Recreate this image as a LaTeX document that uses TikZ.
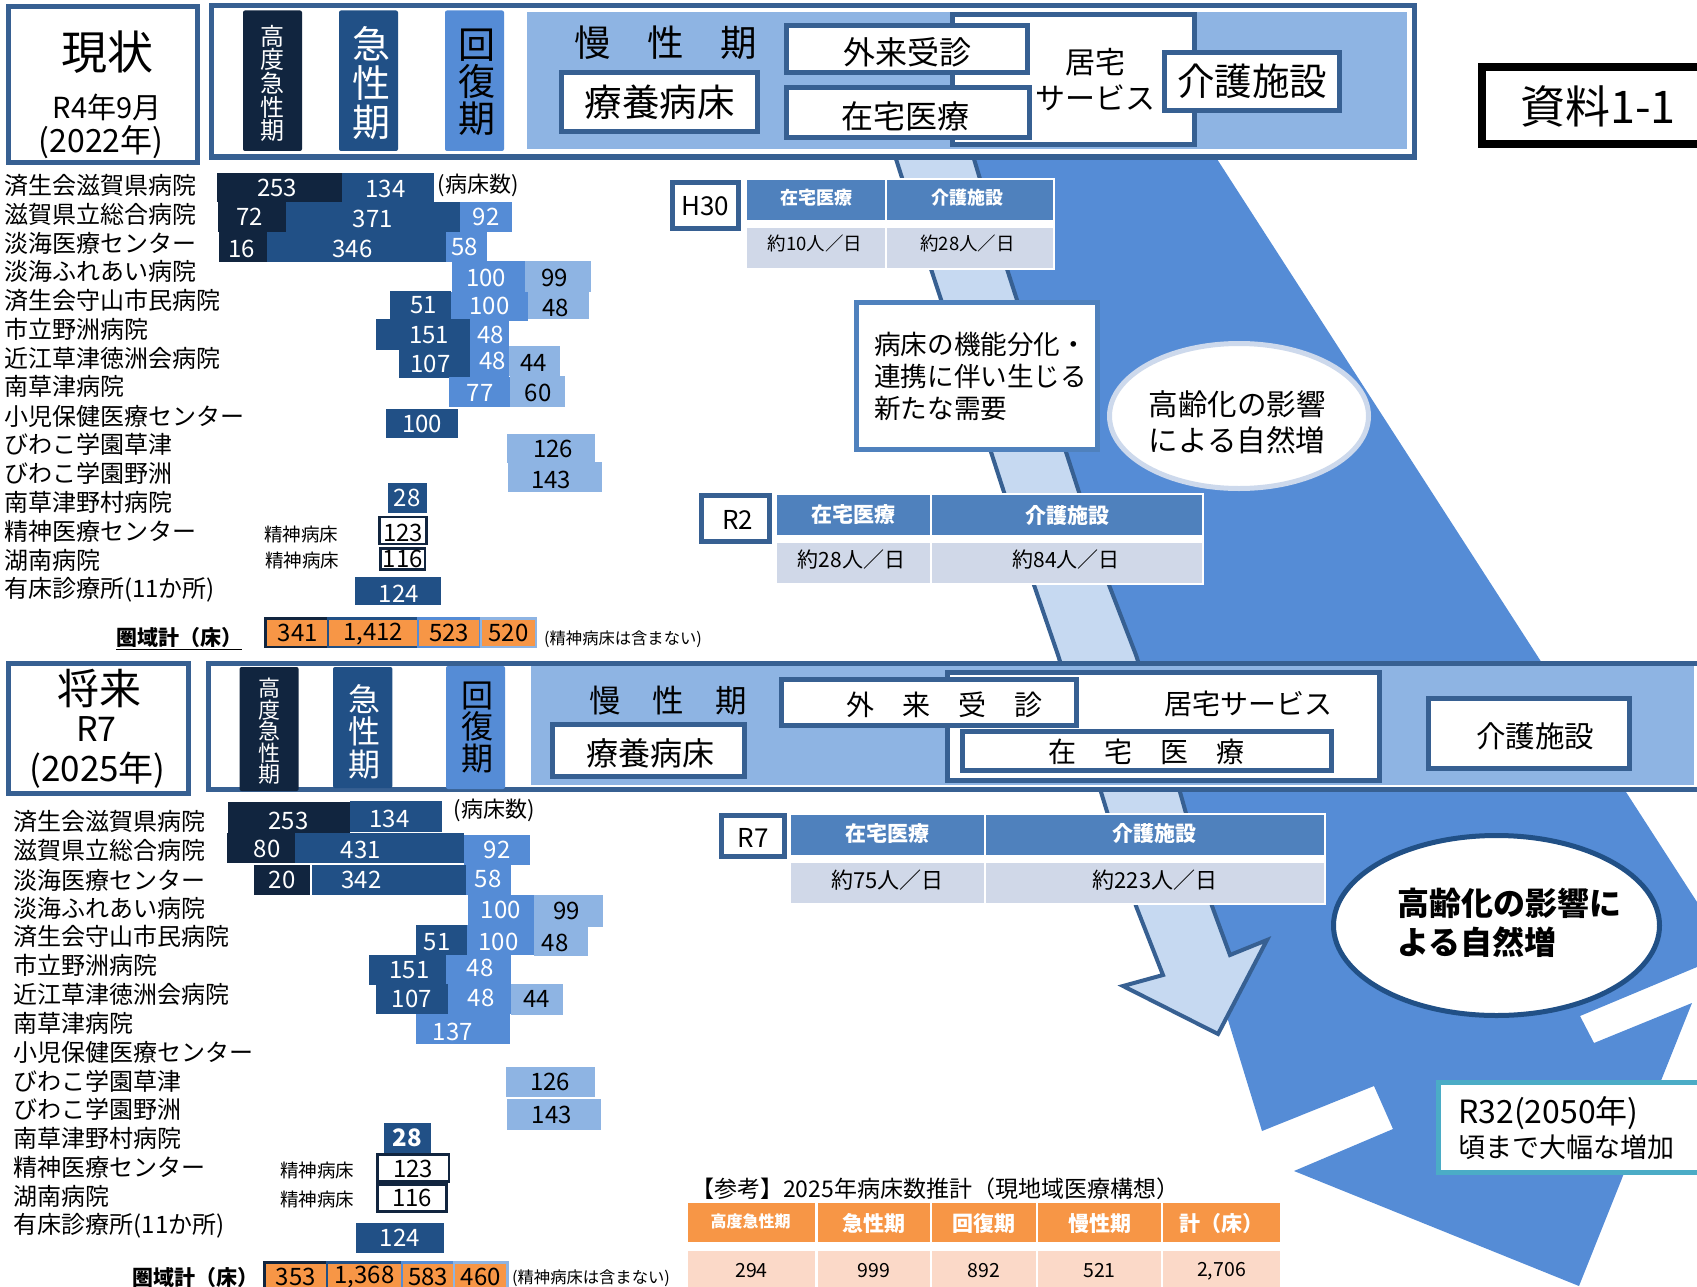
\documentclass[tikz,border=0pt]{standalone}
\usepackage{fontspec}
\setmainfont{Noto Sans CJK JP}
\usetikzlibrary{shapes.geometric}
\definecolor{bandblue}{HTML}{376092}
\definecolor{darkbed}{HTML}{11253F}
\definecolor{midbed}{HTML}{215086}
\definecolor{lightbed}{HTML}{558CD6}
\definecolor{palebed}{HTML}{8EB4E3}
\definecolor{skyarrow}{HTML}{C6D9F1}
\definecolor{headblue}{HTML}{4F81BD}
\definecolor{rowblue}{HTML}{D0D8E8}
\definecolor{orangebed}{HTML}{F79646}
\definecolor{roworange}{HTML}{FBD9C8}
\definecolor{tealbox}{HTML}{4BACC6}
\definecolor{rimblue}{HTML}{CDD9EC}
\newcommand{\fs}[2]{\fontsize{#1}{#2}\selectfont}
\newcommand{\bedbar}[7]{\node[#2,minimum width={(#5-#3)*1pt},minimum height={(#6-#4)*1pt}] (#1) at ({(#3+#5)/2},{(#4+#6)/2}) {#7};}
\newcommand{\tx}[3]{\makebox[0pt]{\hspace*{#1pt}\hspace*{#1pt}\raisebox{-#2pt}[\height][\depth]{#3}}}
\tikzset{
  hosp/.style={anchor=west,inner sep=0pt,font=\fs{24}{24}},
  cell/.style={inner sep=0pt,font=\fs{24}{24}},
  highbar/.style={cell,fill=darkbed,text=white},
  acutebar/.style={cell,fill=midbed,text=white},
  recovbar/.style={cell,fill=lightbed,text=white},
  chronbar/.style={cell,fill=palebed},
  psybar/.style={cell,fill=white,draw=darkbed,line width=2.5pt},
  sumbar/.style={cell,fill=orangebed,line width=2.5pt},
  panelbox/.style={inner sep=0pt,fill=white,draw=bandblue,line width=5pt},
  headcell/.style={inner sep=0pt,fill=headblue,text=white},
  datacell/.style={inner sep=0pt,fill=rowblue},
  plain/.style={inner sep=0pt},
  stagebar/.style={inner sep=0pt,rounded corners=2pt,align=center},
}

\begin{document}
\begin{tikzpicture}[x=1pt,y=-1pt]
      \useasboundingbox (0,0) rectangle (1697,1287);
      \clip (0,0) rectangle (1697,1287);
      %arrows
      \path [fill=lightbed] (930,100) -- (1179,100) -- (1217,159) -- (1540,660) -- (1626,792) -- (1697,902) -- (1740,950) -- (1697,967) -- (1580,1016) -- (1594,1043) -- (1692,1003) -- (1579,1286) -- (1294,1171) -- (1393,1129) -- (1374,1086) -- (1262,1131) -- (1228,1020) -- (1215,950) -- (1190,900) -- (1150,792) -- (1100,650) -- (1040,452) -- (980,269) -- (950,159) -- cycle;
      \path [fill=skyarrow,draw=bandblue,line width=4pt,line join=miter] (880,100) -- (896,159) -- (931,269) -- (991,452) -- (1034,585) -- (1058,655) -- (1101,792) -- (1136,906) -- (1163,975) -- (1123,986) -- (1218,1034) -- (1267,940) -- (1230,955) -- (1212,906) -- (1180,792) -- (1136,655) -- (1109,585) -- (1066,452) -- (1007,269) -- (974,159) -- (958,100) -- cycle;
      %upper band
      \bedbar{nowbox}{panelbox}{8.5}{6.5}{197.5}{162}{}
      \node[plain,font=\fs{46}{46}] (nowa) at (107,52) {現状};
      \node[plain,font=\fs{29}{29}] (nowb) at (107,107) {R4年9月};
      \node[plain,font=\fs{32}{32}] (nowc) at (101,142) {(2022年)};
      \bedbar{nowband}{panelbox}{211.5}{5.5}{1414.5}{157}{}
      \bedbar{nowhigh}{stagebar,fill=darkbed,text=white,font=\fs{24}{23.6}}{243}{10.5}{302}{151}{\\[2pt]高\\度\\急\\性\\期}
      \bedbar{nowacute}{stagebar,fill=midbed,text=white,font=\fs{38}{39}}{339}{10.5}{398}{151}{\tx{3}{2}{\parbox{40pt}{\centering 急\\性\\期}}}
      \bedbar{nowrecov}{stagebar,fill=lightbed,font=\fs{37}{37}}{445}{10.5}{504}{151}{\tx{2}{2}{\parbox{40pt}{\centering 回\\復\\期}}}
      \bedbar{nowchron}{plain,fill=palebed}{527}{12}{1407}{149.5}{}
      \node[plain,font=\fs{36.5}{36}] (nowchront) at (666,43) {慢　性　期};
      \bedbar{nowlong}{panelbox,font=\fs{37.5}{37}}{561.5}{73}{757.5}{131.5}{療養病床}
      \bedbar{nowhome}{panelbox}{952.5}{15}{1194.5}{144.5}{}
      \node[plain,font=\fs{30}{36},align=center] (nowhomet) at (1095,80) {居宅\\サービス};
      \bedbar{nowout}{panelbox,font=\fs{32}{32}}{786.5}{25.5}{1027.5}{72.5}{}
      \node[plain,font=\fs{32}{32}] (nowoutt) at (907,52.5) {外来受診};
      \bedbar{nowvisit}{panelbox,font=\fs{32}{32}}{786.5}{88}{1029}{137.5}{}
      \node[plain,font=\fs{32}{32}] (nowvisitt) at (905,116) {在宅医療};
      \bedbar{nowcare}{panelbox,font=\fs{37.5}{37}}{1164.5}{53}{1339.5}{110.5}{介護施設}
      %document tag
      \bedbar{tagbox}{panelbox,draw=black,line width=8.5pt}{1482}{67}{1720}{144}{}
      \node[plain,font=\fs{45}{45}] (tag) at (1598,106) {資料1-1};
      %upper hospitals
      \node[hosp] (ha1) at (4,185) {済生会滋賀県病院};
      \node[hosp] (ha2) at (4,214) {滋賀県立総合病院};
      \node[hosp] (ha3) at (4,243) {淡海医療センター};
      \node[hosp] (ha4) at (4,271.5) {淡海ふれあい病院};
      \node[hosp] (ha5) at (4,300) {済生会守山市民病院};
      \node[hosp] (ha6) at (4,329) {市立野洲病院};
      \node[hosp] (ha7) at (4,358) {近江草津徳洲会病院};
      \node[hosp] (ha8) at (4,386) {南草津病院};
      \node[hosp] (ha9) at (4,416) {小児保健医療センター};
      \node[hosp] (ha10) at (4,444) {びわこ学園草津};
      \node[hosp] (ha11) at (4,473) {びわこ学園野洲};
      \node[hosp] (ha12) at (4,502) {南草津野村病院};
      \node[hosp] (ha13) at (4,531) {精神医療センター};
      \node[hosp] (ha14) at (4,560) {湖南病院};
      \node[hosp] (ha15) at (4,590) {有床診療所(11か所)};
      %upper beds
      \bedbar{a1h}{highbar}{217}{173}{341.5}{202}{\tx{-2}{0}{253}}
      \bedbar{a1a}{acutebar}{341.5}{173}{433.6}{202}{\tx{-2}{1}{134}}
      \node[plain,font=\fs{22}{22}] (aunit) at (478,185) {(病床数)};
      \bedbar{a2h}{highbar}{218}{202}{285.6}{232}{\tx{-2}{0}{72}}
      \bedbar{a2a}{acutebar}{285.6}{202}{460}{232}{\tx{0}{2}{371}}
      \bedbar{a2r}{recovbar}{460}{202}{512}{232}{92}
      \bedbar{a3h}{highbar}{219}{232}{266.7}{262}{\tx{-1}{2}{16}}
      \bedbar{a3a}{acutebar}{266.7}{232}{446}{262}{\tx{-4}{2}{346}}
      \bedbar{a3r}{recovbar}{446}{232}{487}{262}{\tx{-2}{0}{58}}
      \bedbar{a4r}{recovbar}{451.5}{261}{524.7}{291.7}{\tx{-2}{2}{100}}
      \bedbar{a4c}{chronbar}{524.7}{261}{591}{291.7}{\tx{-3}{2}{99}}
      \bedbar{a5a}{acutebar}{389.7}{291}{451}{320}{\tx{3}{0}{51}}
      \bedbar{a5r}{recovbar}{451}{291.7}{528}{320.7}{100}
      \bedbar{a5c}{chronbar}{528}{291.7}{589}{318.6}{\tx{-3}{3}{48}}
      \bedbar{a6a}{acutebar}{376}{319}{470}{350}{\tx{6}{1}{151}}
      \bedbar{a6r}{recovbar}{470}{320}{509}{349}{\tx{1}{0}{48}}
      \bedbar{a7a}{acutebar}{399}{349}{470}{377.5}{\tx{-4}{1}{107}}
      \bedbar{a7r}{recovbar}{470}{349}{509}{376.7}{\tx{3}{-2}{48}}
      \bedbar{a7c}{chronbar}{509}{346}{560.4}{376}{\tx{-1}{2}{44}}
      \bedbar{a8r}{recovbar}{449}{376.7}{509.5}{407}{\tx{1}{1}{77}}
      \bedbar{a8c}{chronbar}{509.5}{376}{565}{407}{\tx{1}{1}{60}}
      \bedbar{a9a}{acutebar}{386}{409}{458}{438}{100}
      \bedbar{a10c}{chronbar}{507}{433.5}{595}{463}{\tx{2}{1}{126}}
      \bedbar{a11c}{chronbar}{508.4}{462}{602}{492}{\tx{-4}{3}{143}}
      \bedbar{a12a}{acutebar}{387.5}{483}{427}{512.6}{28}
      \node[plain,font=\fs{18.5}{18.5}] (apsya) at (301,534) {精神病床};
      \bedbar{a13p}{psybar}{379.5}{517}{426.5}{544}{\tx{0}{2}{123}}
      \node[plain,font=\fs{18.5}{18.5}] (apsyb) at (302,560) {精神病床};
      \bedbar{a14p}{psybar}{380.5}{548.5}{425}{569.5}{116}
      \bedbar{a15a}{acutebar}{354.5}{576.6}{441}{605}{\tx{1}{3}{124}}
      \node[plain,font=\fs{21}{21}\bfseries] (asum) at (179,639) {\underline{圏域計（床）}};
      \bedbar{s1}{sumbar,draw=darkbed}{265.5}{618.5}{328}{647}{\tx{1}{0}{341}}
      \bedbar{s2}{sumbar,draw=midbed}{328}{618.5}{418}{647}{\tx{0}{1}{1,412}}
      \bedbar{s3}{sumbar,draw=lightbed}{418}{618.5}{480}{647}{523}
      \bedbar{s4}{sumbar,draw=palebed}{481}{618.5}{536}{647}{520}
      \node[plain,font=\fs{16.3}{16.3}] (anote) at (623,639) {(精神病床は含まない)};
      %H30 table
      \bedbar{hbox}{panelbox,font=\fs{26}{26}}{672.5}{182.5}{738.5}{228.5}{\tx{0}{1}{H30}}
      \bedbar{hback}{plain,fill=white}{745}{177.5}{1054.5}{270}{}
      \bedbar{hh1}{headcell,font=\fs{18}{18}\bfseries}{747}{180}{885}{220}{\tx{0}{-2}{在宅医療}}
      \bedbar{hh2}{headcell,font=\fs{18}{18}\bfseries}{886.5}{180}{1052.5}{220}{\tx{-2}{-2}{介護施設}}
      \bedbar{hd1}{datacell,font=\fs{18.5}{18.5}}{747}{228}{885}{268}{\tx{-1}{-5}{約10人／日}}
      \bedbar{hd2}{datacell,font=\fs{18.5}{18.5}}{886.5}{228}{1052.5}{268}{\tx{-2}{-5}{約28人／日}}
      %function box and ellipse
      \bedbar{funcbox}{panelbox,draw=headblue}{856.5}{302.5}{1097.5}{449.5}{}
      \node[plain,anchor=west,align=left,font=\fs{26.6}{32}] (functext) at (874,376) {病床の機能分化・\\連携に伴い生じる\\新たな需要};
      \node[ellipse,inner sep=0pt,fill=white,draw=rimblue,line width=5pt,minimum width=259pt,minimum height=145pt] (ageup) at (1239,416) {};
      \node[plain,align=center,font=\fs{29.5}{36}] (ageuptext) at (1237,422) {高齢化の影響\\による自然増};
      %R2 table
      \bedbar{rbox}{panelbox,font=\fs{26}{26}}{701.5}{495.5}{769.5}{541.5}{\tx{2}{1}{R2}}
      \bedbar{rback}{plain,fill=white}{775}{492.5}{1204}{585}{}
      \bedbar{rh1}{headcell,font=\fs{21}{21}\bfseries}{777}{495}{930}{535}{在宅医療}
      \bedbar{rh2}{headcell,font=\fs{21}{21}\bfseries}{932}{495}{1202}{535}{介護施設}
      \bedbar{rd1}{datacell,font=\fs{21}{21}}{777}{543}{930}{583}{\tx{-2}{-3}{約28人／日}}
      \bedbar{rd2}{datacell,font=\fs{21}{21}}{932}{543}{1202}{583}{\tx{-1}{-3}{約84人／日}}
      %lower band
      \bedbar{futbox}{panelbox}{8.5}{663.5}{188.5}{793.5}{}
      \node[plain,font=\fs{42}{42}] (futa) at (99,688) {将来};
      \node[plain,font=\fs{34}{34}] (futb) at (96.5,729) {R7};
      \node[plain,font=\fs{35}{35}] (futc) at (97.5,770) {(2025年)};
      \bedbar{futband}{panelbox}{208.5}{663.5}{1720}{789.5}{}
      \bedbar{futchron}{plain,fill=palebed}{531}{665.5}{1694}{785}{}
      \bedbar{futhigh}{stagebar,fill=darkbed,text=white,font=\fs{22}{21.4}}{239.6}{667}{298.6}{791}{\\[2pt]高\\度\\急\\性\\期}
      \bedbar{futacute}{stagebar,fill=midbed,text=white,font=\fs{32}{32.5}}{333}{667}{392.4}{788}{\tx{2}{4}{\parbox{40pt}{\centering 急\\性\\期}}}
      \bedbar{futrecov}{stagebar,fill=lightbed,font=\fs{32}{31.5}}{446}{666}{505}{789}{\tx{2}{0}{\parbox{40pt}{\centering 回\\復\\期}}}
      \node[plain,font=\fs{31.5}{31}] (futchront) at (668,701) {慢　性　期};
      \bedbar{futlong}{panelbox,font=\fs{32}{32}}{552.5}{724.5}{744.5}{776.5}{\tx{2}{3}{療養病床}}
      \bedbar{futhome}{panelbox}{947}{672.5}{1379.5}{780.5}{}
      \node[plain,font=\fs{28}{28}] (futhomet) at (1248,703.5) {居宅サービス};
      \bedbar{futout}{panelbox,font=\fs{28}{28}}{781.5}{679.5}{1076.5}{725.5}{\tx{15}{2}{外　来　受　診}}
      \bedbar{futvisit}{panelbox,font=\fs{28}{28}}{962.5}{731.5}{1331}{770.5}{\tx{0}{1}{在　宅　医　療}}
      \bedbar{futcare}{panelbox,font=\fs{29.5}{29.5}}{1428.5}{698.5}{1629.5}{768.5}{\tx{6}{3}{介護施設}}
      %lower hospitals
      \node[hosp] (hb1) at (13.5,821) {済生会滋賀県病院};
      \node[hosp] (hb2) at (13.5,850) {滋賀県立総合病院};
      \node[hosp] (hb3) at (13.5,880) {淡海医療センター};
      \node[hosp] (hb4) at (13.5,908) {淡海ふれあい病院};
      \node[hosp] (hb5) at (13.5,936.5) {済生会守山市民病院};
      \node[hosp] (hb6) at (13.5,965) {市立野洲病院};
      \node[hosp] (hb7) at (13.5,994) {近江草津徳洲会病院};
      \node[hosp] (hb8) at (13.5,1023) {南草津病院};
      \node[hosp] (hb9) at (13.5,1052) {小児保健医療センター};
      \node[hosp] (hb10) at (13.5,1081) {びわこ学園草津};
      \node[hosp] (hb11) at (13.5,1109) {びわこ学園野洲};
      \node[hosp] (hb12) at (13.5,1138.5) {南草津野村病院};
      \node[hosp] (hb13) at (13.5,1167) {精神医療センター};
      \node[hosp] (hb14) at (13.5,1196) {湖南病院};
      \node[hosp] (hb15) at (13.5,1226) {有床診療所(11か所)};
      %lower beds
      \bedbar{b1h}{highbar}{227.6}{802}{349.6}{833}{\tx{0}{3}{253}}
      \bedbar{b1a}{acutebar}{349.6}{801}{441.7}{832}{\tx{-6}{2}{134}}
      \node[plain,font=\fs{22}{22}] (bunit) at (494,810) {(病床数)};
      \bedbar{b2h}{highbar}{226.6}{833}{295.4}{863.4}{\tx{6}{1}{80}}
      \bedbar{b2a}{acutebar}{295.4}{833}{464}{863.4}{\tx{-19}{2}{431}}
      \bedbar{b2r}{recovbar}{464}{834.5}{530}{864.6}{92}
      \bedbar{b3h}{highbar}{254}{865.4}{310}{894.7}{20}
      \bedbar{b3a}{acutebar}{311.6}{865.4}{465.6}{894.7}{\tx{-27}{0}{342}}
      \bedbar{b3r}{recovbar}{465.6}{864.6}{511}{894.7}{\tx{0}{-1}{58}}
      \bedbar{b4r}{recovbar}{467.8}{894.7}{534}{925}{100}
      \bedbar{b4c}{chronbar}{534}{894.7}{602.7}{927}{\tx{-2}{0}{99}}
      \bedbar{b5a}{acutebar}{415.7}{925}{466.7}{955}{\tx{-4}{2}{51}}
      \bedbar{b5r}{recovbar}{466.7}{925}{534}{955}{\tx{-2}{2}{100}}
      \bedbar{b5c}{chronbar}{534}{927}{588}{955.7}{\tx{-6}{2}{48}}
      \bedbar{b6a}{acutebar}{369}{955}{446}{985}{\tx{2}{0}{151}}
      \bedbar{b6r}{recovbar}{446}{955}{510.6}{984}{\tx{2}{-2}{48}}
      \bedbar{b7a}{acutebar}{376}{984}{447.7}{1013.8}{107}
      \bedbar{b7r}{recovbar}{447.7}{984}{510.6}{1013.8}{\tx{2}{-1}{48}}
      \bedbar{b7c}{chronbar}{510.6}{984}{563}{1014.6}{44}
      \bedbar{b8r}{recovbar}{415.7}{1013.8}{510}{1043.5}{\tx{-10}{3}{137}}
      \bedbar{b10c}{chronbar}{506}{1066.7}{594.6}{1097}{126}
      \bedbar{b11c}{chronbar}{506.8}{1099}{601}{1129.7}{\tx{-2}{1}{143}}
      \bedbar{b12a}{acutebar,font=\fs{24}{24}\bfseries}{383.7}{1122.8}{431}{1153}{28}
      \node[plain,font=\fs{18.5}{18.5}] (bpsya) at (317,1170) {精神病床};
      \bedbar{b13p}{psybar}{377.5}{1154.5}{449}{1181.5}{\tx{0}{1}{123}}
      \node[plain,font=\fs{18.5}{18.5}] (bpsyb) at (317,1199.5) {精神病床};
      \bedbar{b14p}{psybar}{377.5}{1184.5}{446.5}{1211.5}{116}
      \bedbar{b15a}{acutebar}{355.6}{1223}{444}{1253}{124}
      \node[plain,font=\fs{21}{21}\bfseries] (bsum) at (195,1279) {\underline{圏域計（床）}};
      \bedbar{t1}{sumbar,draw=darkbed}{264.5}{1262.5}{327}{1291}{353}
      \bedbar{t2}{sumbar,draw=midbed}{327}{1262.5}{402}{1291}{1,368}
      \bedbar{t3}{sumbar,draw=lightbed}{402}{1262.5}{454}{1291}{583}
      \bedbar{t4}{sumbar,draw=palebed}{454}{1262.5}{507.5}{1291}{460}
      \node[plain,font=\fs{16.3}{16.3}] (bnote) at (591,1278) {(精神病床は含まない)};
      %R7 table
      \bedbar{sbox}{panelbox,font=\fs{26}{26}}{721.5}{815}{784.5}{856}{\tx{0}{2}{R7}}
      \bedbar{sback}{plain,fill=white}{789}{812.5}{1326}{905}{}
      \bedbar{sh1}{headcell,font=\fs{21}{21}\bfseries}{791}{814.5}{984}{855}{\tx{0}{-1}{在宅医療}}
      \bedbar{sh2}{headcell,font=\fs{21}{21}\bfseries}{986}{814.5}{1324}{855}{\tx{-1}{-1}{介護施設}}
      \bedbar{sd1}{datacell,font=\fs{22}{22}}{791}{862.5}{984}{903}{\tx{0}{-3}{約75人／日}}
      \bedbar{sd2}{datacell,font=\fs{22}{22}}{986}{862.5}{1324}{903}{\tx{0}{-3}{約223人／日}}
      %lower ellipse and R32 note
      \node[ellipse,inner sep=0pt,fill=white,draw=midbed,line width=5pt,minimum width=326pt,minimum height=180pt] (agefut) at (1496.5,925.5) {};
      \node[plain,anchor=west,align=left,font=\fs{32}{38.5}\bfseries] (agefuttext) at (1397,923) {高齢化の影響に\\よる自然増};
      \bedbar{latebox}{panelbox,draw=tealbox}{1438.5}{1082.5}{1720}{1172}{}
      \node[plain,anchor=west,align=left,font=\fs{27}{34}] (latetext) at (1458,1128) {{\fs{32}{34}R32(2050年)}\\頃まで大幅な増加};
      %reference table
      \node[plain,anchor=west,font=\fs{23}{23}] (reftitle) at (691,1189) {【参考】2025年病床数推計（現地域医療構想）};
      \bedbar{rfh1}{plain,fill=orangebed,text=white,font=\fs{16}{16}\bfseries}{688}{1203}{815}{1242}{\tx{-1}{-1}{高度急性期}}
      \bedbar{rfh2}{plain,fill=orangebed,text=white,font=\fs{21}{21}\bfseries}{818}{1203}{930}{1242}{\tx{0}{1}{急性期}}
      \bedbar{rfh3}{plain,fill=orangebed,text=white,font=\fs{21}{21}\bfseries}{932}{1203}{1036}{1242}{\tx{0}{1}{回復期}}
      \bedbar{rfh4}{plain,fill=orangebed,text=white,font=\fs{21}{21}\bfseries}{1038}{1203}{1161}{1242}{\tx{0}{1}{慢性期}}
      \bedbar{rfh5}{plain,fill=orangebed,text=white,font=\fs{21}{21}\bfseries}{1163}{1203}{1280}{1242}{\tx{0}{1}{計（床）}}
      \bedbar{rfd1}{plain,fill=roworange,font=\fs{19.5}{19.5}}{688}{1250.5}{815}{1290}{294}
      \bedbar{rfd2}{plain,fill=roworange,font=\fs{19.5}{19.5}}{818}{1250.5}{930}{1290}{999}
      \bedbar{rfd3}{plain,fill=roworange,font=\fs{19.5}{19.5}}{932}{1250.5}{1036}{1290}{892}
      \bedbar{rfd4}{plain,fill=roworange,font=\fs{19.5}{19.5}}{1038}{1250.5}{1161}{1290}{521}
      \bedbar{rfd5}{plain,fill=roworange,font=\fs{19.5}{19.5}}{1163}{1250.5}{1280}{1290}{\tx{0}{1}{2,706}}
    \end{tikzpicture}
\end{document}
